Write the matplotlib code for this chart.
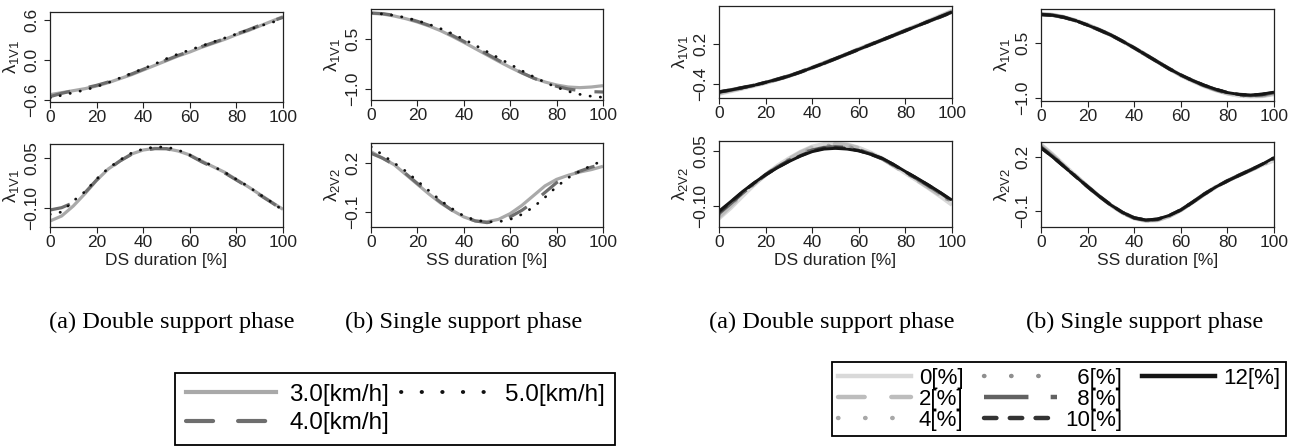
import matplotlib
matplotlib.use("Agg")
import matplotlib.pyplot as plt
from matplotlib.lines import Line2D
from matplotlib.patches import Rectangle

plt.rcParams['font.family'] = ['Liberation Sans', 'DejaVu Sans']
plt.rcParams['mathtext.fontset'] = 'custom'
plt.rcParams['mathtext.rm'] = 'Liberation Sans'
plt.rcParams['mathtext.it'] = 'Liberation Sans:italic'

# duration [%]
x = list(range(0, 101, 5))

# ---- left group: walking speed ----
speeds = ["3.0[km/h]", "4.0[km/h]", "5.0[km/h]"]
ds_l1_speed = [
    [-0.52, -0.49, -0.46, -0.43, -0.39, -0.34, -0.28, -0.22, -0.15, -0.08, -0.01,
     0.06, 0.12, 0.19, 0.25, 0.31, 0.38, 0.44, 0.51, 0.58, 0.65],
    [-0.55, -0.50, -0.46, -0.42, -0.38, -0.33, -0.27, -0.21, -0.14, -0.07, 0.0,
     0.07, 0.13, 0.20, 0.26, 0.32, 0.39, 0.45, 0.52, 0.58, 0.64],
    [-0.57, -0.53, -0.49, -0.45, -0.40, -0.34, -0.27, -0.20, -0.13, -0.06, 0.02,
     0.09, 0.15, 0.21, 0.27, 0.33, 0.39, 0.45, 0.51, 0.56, 0.62],
]
ds_l2_speed = [
    [-0.14, -0.125, -0.095, -0.058, -0.018, 0.016, 0.04, 0.061, 0.073, 0.078, 0.077,
     0.07, 0.058, 0.04, 0.023, 0.006, -0.016, -0.037, -0.06, -0.083, -0.105],
    [-0.107, -0.10, -0.085, -0.055, -0.017, 0.015, 0.04, 0.06, 0.072, 0.077, 0.077,
     0.068, 0.057, 0.038, 0.021, 0.004, -0.017, -0.038, -0.062, -0.084, -0.107],
    [-0.12, -0.113, -0.08, -0.052, -0.014, 0.018, 0.043, 0.064, 0.076, 0.082, 0.082,
     0.073, 0.058, 0.042, 0.024, 0.006, -0.015, -0.036, -0.06, -0.083, -0.108],
]
ss_l1_speed = [
    [1.27, 1.25, 1.19, 1.11, 1.01, 0.89, 0.75, 0.58, 0.40, 0.21, 0.02,
     -0.17, -0.35, -0.52, -0.67, -0.79, -0.88, -0.94, -0.96, -0.94, -0.90],
    [1.28, 1.26, 1.21, 1.13, 1.03, 0.91, 0.77, 0.61, 0.43, 0.24, 0.05,
     -0.14, -0.33, -0.51, -0.67, -0.81, -0.92, -1.00, -1.05, -1.08, -1.09],
    [1.28, 1.25, 1.21, 1.14, 1.05, 0.94, 0.81, 0.66, 0.49, 0.31, 0.12,
     -0.07, -0.26, -0.45, -0.63, -0.80, -0.95, -1.07, -1.16, -1.22, -1.25],
]
ss_l2_speed = [
    [0.27, 0.23, 0.19, 0.13, 0.07, 0.01, -0.045, -0.09, -0.13, -0.155, -0.16,
     -0.145, -0.11, -0.06, 0.0, 0.06, 0.10, 0.125, 0.145, 0.16, 0.18],
    [0.26, 0.23, 0.19, 0.135, 0.075, 0.015, -0.04, -0.09, -0.13, -0.155, -0.165,
     -0.155, -0.13, -0.09, -0.04, 0.02, 0.08, 0.12, 0.15, 0.175, 0.195],
    [0.30, 0.25, 0.20, 0.15, 0.09, 0.03, -0.03, -0.08, -0.125, -0.15, -0.16,
     -0.16, -0.145, -0.115, -0.07, -0.01, 0.055, 0.11, 0.15, 0.185, 0.215],
]

# ---- right group: slope ----
slopes = ["0[%]", "2[%]", "4[%]", "6[%]", "8[%]", "10[%]", "12[%]"]
ds_l1_slope = [
    [-0.55, -0.51, -0.47, -0.43, -0.385, -0.335, -0.28, -0.22, -0.155, -0.09, -0.02,
     0.05, 0.12, 0.19, 0.26, 0.33, 0.40, 0.475, 0.55, 0.625, 0.70],
    [-0.54, -0.50, -0.465, -0.425, -0.38, -0.33, -0.28, -0.22, -0.155, -0.085, -0.015,
     0.055, 0.125, 0.195, 0.265, 0.335, 0.405, 0.475, 0.545, 0.615, 0.69],
    [-0.53, -0.50, -0.46, -0.42, -0.38, -0.33, -0.275, -0.215, -0.15, -0.085, -0.015,
     0.055, 0.125, 0.195, 0.26, 0.33, 0.40, 0.47, 0.545, 0.615, 0.685],
    [-0.53, -0.495, -0.46, -0.425, -0.38, -0.335, -0.28, -0.22, -0.155, -0.09, -0.02,
     0.05, 0.12, 0.19, 0.26, 0.33, 0.40, 0.47, 0.54, 0.61, 0.68],
    [-0.52, -0.49, -0.455, -0.42, -0.38, -0.33, -0.28, -0.22, -0.155, -0.09, -0.02,
     0.05, 0.12, 0.19, 0.26, 0.33, 0.40, 0.47, 0.54, 0.61, 0.68],
    [-0.52, -0.49, -0.455, -0.42, -0.375, -0.33, -0.28, -0.22, -0.155, -0.09, -0.02,
     0.05, 0.12, 0.19, 0.26, 0.33, 0.40, 0.47, 0.54, 0.605, 0.675],
    [-0.52, -0.49, -0.455, -0.42, -0.375, -0.33, -0.28, -0.22, -0.155, -0.09, -0.02,
     0.05, 0.12, 0.19, 0.26, 0.33, 0.40, 0.47, 0.54, 0.61, 0.68],
]
ds_l2_slope = [
    [-0.134, -0.106, -0.074, -0.043, -0.015, 0.01, 0.03, 0.048, 0.062, 0.069, 0.071,
     0.068, 0.059, 0.046, 0.030, 0.01, -0.011, -0.031, -0.052, -0.074, -0.097],
    [-0.13, -0.10, -0.07, -0.041, -0.015, 0.009, 0.028, 0.046, 0.06, 0.067, 0.069,
     0.066, 0.058, 0.045, 0.029, 0.009, -0.011, -0.03, -0.05, -0.071, -0.094],
    [-0.126, -0.097, -0.068, -0.04, -0.015, 0.008, 0.027, 0.044, 0.057, 0.064, 0.066,
     0.063, 0.056, 0.044, 0.029, 0.01, -0.009, -0.028, -0.048, -0.069, -0.091],
    [-0.122, -0.095, -0.066, -0.039, -0.015, 0.007, 0.025, 0.041, 0.054, 0.061, 0.063,
     0.061, 0.054, 0.043, 0.029, 0.011, -0.008, -0.027, -0.046, -0.067, -0.089],
    [-0.12, -0.093, -0.065, -0.039, -0.015, 0.006, 0.024, 0.039, 0.052, 0.059, 0.061,
     0.059, 0.053, 0.042, 0.029, 0.012, -0.007, -0.026, -0.045, -0.065, -0.087],
    [-0.117, -0.09, -0.063, -0.038, -0.015, 0.005, 0.022, 0.037, 0.05, 0.057, 0.059,
     0.057, 0.051, 0.041, 0.029, 0.012, -0.007, -0.025, -0.044, -0.064, -0.086],
    [-0.114, -0.088, -0.061, -0.037, -0.015, 0.004, 0.021, 0.036, 0.048, 0.055, 0.057,
     0.055, 0.050, 0.041, 0.030, 0.013, -0.006, -0.024, -0.043, -0.063, -0.084],
]
ss_l1_slope = [
    [1.30, 1.27, 1.21, 1.12, 1.00, 0.87, 0.72, 0.55, 0.37, 0.18, -0.01,
     -0.20, -0.38, -0.54, -0.68, -0.79, -0.88, -0.94, -0.96, -0.95, -0.90],
    [1.29, 1.27, 1.21, 1.11, 1.00, 0.86, 0.72, 0.55, 0.37, 0.18, -0.01,
     -0.20, -0.38, -0.53, -0.67, -0.78, -0.87, -0.93, -0.95, -0.94, -0.88],
    [1.29, 1.26, 1.20, 1.11, 0.99, 0.86, 0.71, 0.55, 0.37, 0.18, -0.02,
     -0.20, -0.38, -0.53, -0.66, -0.78, -0.87, -0.92, -0.95, -0.93, -0.87],
    [1.28, 1.26, 1.20, 1.11, 0.99, 0.86, 0.72, 0.55, 0.37, 0.18, -0.01,
     -0.20, -0.37, -0.53, -0.66, -0.77, -0.86, -0.92, -0.94, -0.92, -0.86],
    [1.28, 1.26, 1.20, 1.11, 0.99, 0.86, 0.72, 0.55, 0.37, 0.18, -0.01,
     -0.20, -0.37, -0.52, -0.66, -0.77, -0.86, -0.91, -0.93, -0.91, -0.85],
    [1.28, 1.26, 1.20, 1.11, 0.99, 0.86, 0.72, 0.55, 0.37, 0.18, -0.01,
     -0.20, -0.37, -0.52, -0.65, -0.76, -0.85, -0.90, -0.92, -0.90, -0.84],
    [1.28, 1.26, 1.20, 1.11, 0.99, 0.86, 0.72, 0.55, 0.37, 0.18, -0.01,
     -0.20, -0.37, -0.52, -0.65, -0.76, -0.85, -0.90, -0.92, -0.89, -0.84],
]
ss_l2_slope = [
    [0.27, 0.215, 0.155, 0.095, 0.037, -0.018, -0.068, -0.11, -0.142, -0.156, -0.152,
     -0.13, -0.097, -0.054, -0.008, 0.033, 0.067, 0.098, 0.127, 0.155, 0.18],
    [0.265, 0.21, 0.152, 0.094, 0.036, -0.018, -0.068, -0.11, -0.141, -0.155, -0.15,
     -0.129, -0.097, -0.054, -0.008, 0.033, 0.067, 0.098, 0.127, 0.156, 0.185],
    [0.26, 0.207, 0.15, 0.093, 0.036, -0.018, -0.067, -0.109, -0.14, -0.154, -0.149,
     -0.128, -0.096, -0.053, -0.008, 0.033, 0.067, 0.098, 0.127, 0.157, 0.188],
    [0.258, 0.205, 0.149, 0.092, 0.036, -0.018, -0.067, -0.109, -0.14, -0.153, -0.148,
     -0.127, -0.095, -0.053, -0.007, 0.033, 0.067, 0.098, 0.128, 0.158, 0.19],
    [0.255, 0.203, 0.147, 0.091, 0.035, -0.018, -0.067, -0.108, -0.139, -0.152, -0.147,
     -0.126, -0.095, -0.052, -0.007, 0.033, 0.067, 0.098, 0.128, 0.159, 0.192],
    [0.252, 0.201, 0.146, 0.09, 0.035, -0.018, -0.067, -0.108, -0.138, -0.151, -0.146,
     -0.125, -0.094, -0.052, -0.007, 0.033, 0.067, 0.098, 0.128, 0.16, 0.194],
    [0.25, 0.20, 0.145, 0.09, 0.035, -0.018, -0.067, -0.108, -0.138, -0.150, -0.145,
     -0.125, -0.094, -0.052, -0.007, 0.033, 0.067, 0.098, 0.128, 0.16, 0.196],
]

# line styles
speed_styles = [
    dict(color="#a9a9a9", lw=2.3, ls="-"),
    dict(color="#6e6e6e", lw=2.3, ls=(0, (6.5, 6))),
    dict(color="#111111", lw=2.0, ls=(0, (0.1, 3.6)), dash_capstyle="round"),
]
slope_styles = [
    dict(color="#d9d9d9", lw=2.8, ls="-"),
    dict(color="#bdbdbd", lw=2.8, ls=(0, (6, 6)), dash_capstyle="round"),
    dict(color="#a8a8a8", lw=2.6, ls=(0, (0.1, 6)), dash_capstyle="round"),
    dict(color="#8f8f8f", lw=2.6, ls=(0, (0.1, 6)), dash_capstyle="round"),
    dict(color="#626262", lw=2.6, ls=(0, (10, 5))),
    dict(color="#333333", lw=2.4, ls=(0, (2.8, 3)), dash_capstyle="round"),
    dict(color="#151515", lw=2.1, ls="-"),
]

W, H = 1301, 448
fig = plt.figure(figsize=(W / 100, H / 100), dpi=100)


def box(l, t, r, b):
    return [l / W, 1 - b / H, (r - l) / W, (b - t) / H]


def panel(rect, series, styles, ylim, yticks, yticklabels, ylabel, xlabel=None):
    ax = fig.add_axes(box(*rect))
    for s, st in zip(series, styles):
        ax.plot(x, s, solid_capstyle="butt", **st)
    ax.set_xlim(0, 100)
    ax.set_ylim(*ylim)
    ax.set_xticks([0, 20, 40, 60, 80, 100])
    ax.set_yticks(yticks)
    ax.set_yticklabels(yticklabels, rotation=90, va="center")
    ax.tick_params(axis="both", direction="out", length=4.5, width=0.8,
                   colors="#222222", labelsize=12.5)
    ax.tick_params(axis="x", pad=1.5)
    ax.tick_params(axis="y", pad=3.5)
    for sp in ax.spines.values():
        sp.set_linewidth(0.9)
        sp.set_color("#222222")
    ax.set_ylabel(ylabel, fontsize=13.5, labelpad=2, color="#222222")
    if xlabel:
        ax.set_xlabel(xlabel, fontsize=12.5, labelpad=2, color="#222222")
    return ax


l1 = r"$\mathrm{\lambda_{1V1}}$"
l2 = r"$\mathrm{\lambda_{2V2}}$"

panel((50, 12, 283, 102), ds_l1_speed, speed_styles, (-0.63, 0.72),
      [-0.6, 0.0, 0.6], ["\u22120.6", "0.0", "0.6"], l1)
panel((50, 144, 283, 227), ds_l2_speed, speed_styles, (-0.158, 0.091),
      [-0.10, 0.05], ["\u22120.10", "0.05"], l1, "DS duration [%]")
panel((371, 9, 603, 100), ss_l1_speed, speed_styles, (-1.33, 1.40),
      [-1.0, 0.5], ["\u22121.0", "0.5"], l1)
panel((371, 143, 603, 227), ss_l2_speed, speed_styles, (-0.192, 0.323),
      [-0.1, 0.2], ["\u22120.1", "0.2"], l2, "SS duration [%]")

panel((719, 6, 952, 98), ds_l1_slope, slope_styles, (-0.61, 0.77),
      [-0.4, 0.2], ["\u22120.4", "0.2"], l1)
panel((719, 141, 952, 227), ds_l2_slope, slope_styles, (-0.157, 0.077),
      [-0.10, 0.05], ["\u22120.10", "0.05"], l2, "DS duration [%]")
panel((1041, 9, 1274, 101), ss_l1_slope, slope_styles, (-1.08, 1.43),
      [-1.0, 0.5], ["\u22121.0", "0.5"], l1)
panel((1041, 142, 1274, 227), ss_l2_slope, slope_styles, (-0.189, 0.283),
      [-0.1, 0.2], ["\u22120.1", "0.2"], l2, "SS duration [%]")

# captions
cap = dict(fontsize=17.5, family="Liberation Serif", ha="center", va="center")
fig.text(172 / W, 1 - 322 / H, "(a) Double support phase", **cap)
fig.text(464 / W, 1 - 322 / H, "(b) Single support phase", **cap)
fig.text(832 / W, 1 - 322 / H, "(a) Double support phase", **cap)
fig.text(1145 / W, 1 - 322 / H, "(b) Single support phase", **cap)

# legends
speed_handles = [
    Line2D([], [], color="#a9a9a9", lw=3, ls="-"),
    Line2D([], [], color="#6e6e6e", lw=3, ls=(0, (6.5, 6)), dash_capstyle="round"),
    Line2D([], [], color="#111111", lw=2.8, ls=(0, (0.1, 5.2)), dash_capstyle="round"),
]
leg1 = fig.legend(speed_handles, speeds, loc="upper left",
                  bbox_to_anchor=(175 / W, 1 - 373 / H), ncol=2,
                  fontsize=17.5, handlelength=3.7, handletextpad=0.55,
                  columnspacing=0.5, labelspacing=0.25, borderpad=0.45,
                  borderaxespad=0, fancybox=False, edgecolor="black",
                  framealpha=1)
leg1.get_frame().set_linewidth(1.3)

blank = Rectangle((0, 0), 1, 1, alpha=0)
slope_handles = []
for st in slope_styles:
    kw = dict(st)
    kw["lw"] = 3.2
    slope_handles.append(Line2D([], [], **kw))
slope_labels = ["0[%]", "2[%]", "4[%]", "  6[%]", "  8[%]", "10[%]", "12[%]", "", ""]
leg2 = fig.legend(slope_handles + [blank, blank], slope_labels, loc="upper left",
                  bbox_to_anchor=(832 / W, 1 - 362 / H), ncol=3,
                  fontsize=16, handlelength=3.3, handletextpad=0.36,
                  columnspacing=0.9, labelspacing=0.0, borderpad=0.25,
                  borderaxespad=0, fancybox=False, edgecolor="black",
                  framealpha=1)
leg2.get_frame().set_linewidth(1.3)

fig.savefig("out.png", dpi=100)
